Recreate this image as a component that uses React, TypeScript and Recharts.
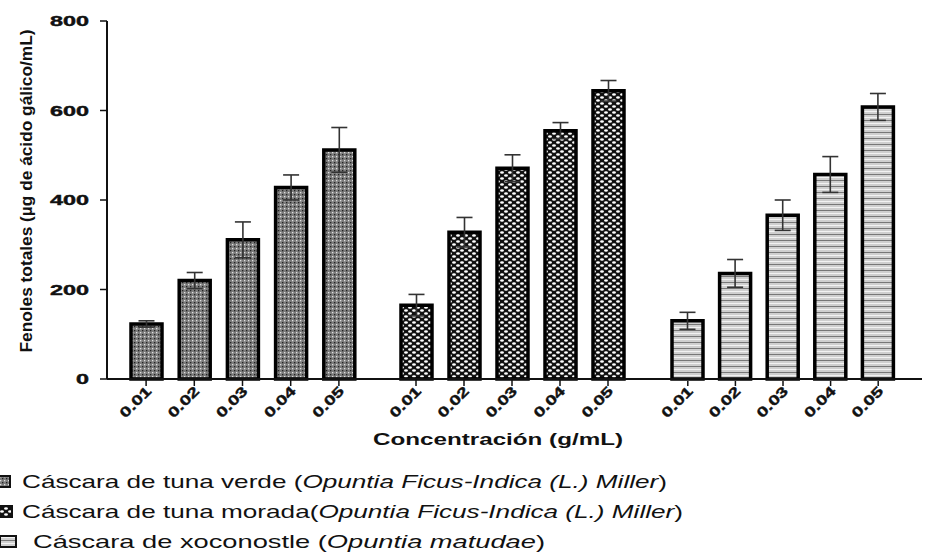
import React from 'react';
import { BarChart, Bar, XAxis, YAxis, ErrorBar } from 'recharts';

// concentraciones (g/mL), compartidas por los tres extractos
const concentrations = ['0.01', '0.02', '0.03', '0.04', '0.05'];

// fenoles totales (µg de ácido gálico/mL)
const verdeValues = [123, 220, 311, 428, 512];
const verdeErrors = [7, 18, 40, 28, 50];
const moradaValues = [165, 328, 471, 555, 644];
const moradaErrors = [24, 33, 30, 18, 23];
const xocoValues = [130, 236, 366, 457, 608];
const xocoErrors = [19, 31, 34, 40, 30];

const yTicks = [0, 200, 400, 600, 800];

const legendItems = [
  { pattern: 'pat-verde', plain: 'Cáscara de tuna verde (', italic: 'Opuntia Ficus-Indica (L.) Miller', close: ')' },
  { pattern: 'pat-morada', plain: 'Cáscara de tuna morada(', italic: 'Opuntia Ficus-Indica (L.) Miller', close: ')' },
  { pattern: 'pat-xoco', plain: 'Cáscara de xoconostle (', italic: 'Opuntia matudae', close: ')' },
];

const data = concentrations.map((c, i) => ({
  c,
  verde: verdeValues[i],
  verdeErr: verdeErrors[i],
  morada: moradaValues[i],
  moradaErr: moradaErrors[i],
  xoco: xocoValues[i],
  xocoErr: xocoErrors[i],
}));

const FONT = '"Liberation Sans", Arial, sans-serif';

const YTick = (props: any) => {
  const { x, y, payload } = props;
  const s = String(payload.value);
  return (
    <text x={x} y={y} dy={5} textAnchor="end" fontFamily={FONT} fontSize={14} fontWeight="bold"
      fill="#111" stroke="#111" strokeWidth={0.4} textLength={s.length * 13} lengthAdjust="spacingAndGlyphs">
      {s}
    </text>
  );
};

const XTick = (props: any) => {
  const { x, y, payload } = props;
  return (
    <g transform={`translate(${x + 6},${y})`}>
      <text transform="rotate(-45)" textAnchor="end" fontFamily={FONT} fontSize={14} fontWeight="bold"
        fill="#111" stroke="#111" strokeWidth={0.4} textLength={38} lengthAdjust="spacingAndGlyphs">
        {payload.value}
      </text>
    </g>
  );
};

const Patterns = () => (
  <defs>
    <pattern id="pat-verde" width="4" height="4" patternUnits="userSpaceOnUse">
      <rect width="4" height="4" fill="#7c7c7c" />
      <rect x="0" y="0" width="1.3" height="1.3" fill="#e0e0e0" />
      <rect x="2" y="2" width="1.3" height="1.3" fill="#222" />
    </pattern>
    <pattern id="pat-morada" width="8" height="6" patternUnits="userSpaceOnUse">
      <rect width="8" height="6" fill="#111" />
      <ellipse cx="2" cy="1.5" rx="1.9" ry="1.2" fill="#fff" />
      <ellipse cx="6" cy="4.5" rx="1.9" ry="1.2" fill="#fff" />
    </pattern>
    <pattern id="pat-xoco" width="4" height="6" patternUnits="userSpaceOnUse">
      <rect width="4" height="6" fill="#cfcfcf" />
      <rect y="0" width="4" height="1" fill="#777" />
      <rect y="3" width="4" height="1" fill="#f2f2f2" />
    </pattern>
  </defs>
);

const errStyle = { stroke: '#333', strokeWidth: 1.6 };
const axisLineStyle = { stroke: '#111', strokeWidth: 2 };
const tickLineStyle = { stroke: '#111', strokeWidth: 1.5 };

export default function App() {
  return (
    <div style={{ position: 'absolute', left: 0, top: 0, width: 928, height: 556, background: '#fff' }}>
      <BarChart width={928} height={556} data={data} margin={{ top: 21, right: 6, left: 106, bottom: 174 }}>
        <YAxis
          domain={[0, 800]}
          ticks={yTicks}
          width={1}
          stroke="#111"
          axisLine={axisLineStyle}
          tickLine={tickLineStyle}
          tickSize={7}
          tickMargin={11}
          tick={<YTick />}
        />
        <XAxis xAxisId="a" dataKey="c" height={1} padding={{ left: 15, right: 559 }}
          axisLine={axisLineStyle} tickLine={tickLineStyle}
          tickSize={7} tickMargin={6} tick={<XTick />} />
        <XAxis xAxisId="b" dataKey="c" height={1} padding={{ left: 285, right: 290 }}
          axisLine={false} tickLine={tickLineStyle}
          tickSize={6} tickMargin={6} tick={<XTick />} />
        <XAxis xAxisId="c" dataKey="c" height={1} padding={{ left: 557, right: 20 }}
          axisLine={false} tickLine={tickLineStyle}
          tickSize={5} tickMargin={6} tick={<XTick />} />
        <Bar xAxisId="a" dataKey="verde" barSize={31} fill="url(#pat-verde)" stroke="#000" strokeWidth={3.5} isAnimationActive={false}>
          <ErrorBar dataKey="verdeErr" width={8} {...errStyle} isAnimationActive={false} />
        </Bar>
        <Bar xAxisId="b" dataKey="morada" barSize={31} fill="url(#pat-morada)" stroke="#000" strokeWidth={3.5} isAnimationActive={false}>
          <ErrorBar dataKey="moradaErr" width={8} {...errStyle} isAnimationActive={false} />
        </Bar>
        <Bar xAxisId="c" dataKey="xoco" barSize={31} fill="url(#pat-xoco)" stroke="#000" strokeWidth={3.5} isAnimationActive={false}>
          <ErrorBar dataKey="xocoErr" width={8} {...errStyle} isAnimationActive={false} />
        </Bar>
      </BarChart>

      <svg width={928} height={556} style={{ position: 'absolute', left: 0, top: 0, pointerEvents: 'none' }}>
        <Patterns />
        <text transform="translate(32,191) rotate(-90)" textAnchor="middle" fontFamily={FONT} fontSize={17}
          fontWeight="bold" fill="#111" textLength={323} lengthAdjust="spacingAndGlyphs">
          Fenoles totales (µg de ácido gálico/mL)
        </text>
        <text x={498} y={445} textAnchor="middle" fontFamily={FONT} fontSize={16} fontWeight="bold"
          fill="#111" textLength={250} lengthAdjust="spacingAndGlyphs">
          Concentración (g/mL)
        </text>
        {legendItems.map((item, i) => {
          const y = 488 + i * 30;
          const iconX = [-6, -4, 0][i];
          const textX = i === 2 ? 33 : 22;
          const len = [645, 661, 512][i];
          return (
            <g key={item.pattern}>
              <rect x={iconX} y={y - 12} width={16} height={11} fill={`url(#${item.pattern})`} stroke="#111" strokeWidth={2} />
              <text x={textX} y={y} fontFamily={FONT} fontSize={19} fill="#111" textLength={len} lengthAdjust="spacingAndGlyphs">
                {item.plain}
                <tspan fontStyle="italic">{item.italic}</tspan>
                {item.close}
              </text>
            </g>
          );
        })}
      </svg>
    </div>
  );
}
